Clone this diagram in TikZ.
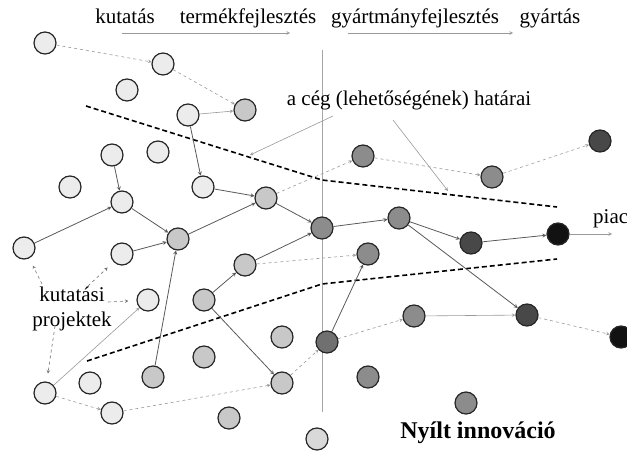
\documentclass[tikz,border=0pt]{standalone}
\usepackage{fontspec}
\setmainfont{Liberation Serif}
\usetikzlibrary{arrows,positioning}
\definecolor{projLight}{RGB}{236,236,236}
\definecolor{projPale}{RGB}{200,200,200}
\definecolor{projMid}{RGB}{140,140,140}
\definecolor{projDark}{RGB}{72,72,72}
\definecolor{projBlack}{RGB}{18,18,18}

\begin{document}
\begin{tikzpicture}[x=1pt,y=-1pt,>=stealth,
    proj/.style={circle,draw=black!85,line width=1.2pt,minimum size=22pt,inner sep=0pt},
    light/.style={proj,fill=projLight},
    pale/.style={proj,fill=projPale},
    mid/.style={proj,fill=projMid},
    dark/.style={proj,fill=projDark},
    blk/.style={proj,fill=projBlack},
    strong/.style={->,draw=black!65,line width=0.8pt},
    weak/.style={->,draw=black!40,line width=0.6pt,dashed},
    faint/.style={->,draw=black!40,line width=0.6pt},
    pointer/.style={->,draw=black!55,line width=0.6pt,dashed,shorten >=8pt},
    boundary/.style={line width=1.6pt,dash pattern=on 5pt off 3pt},
    lbltext/.style={font=\fontsize{21}{25}\selectfont,inner sep=0pt,anchor=base}]
    \useasboundingbox (0,0) rectangle (627,452);

    % Stage labels
    \node[lbltext] (tKut) at (125,24) {kutatás};
    \node[lbltext] (tTerm) at (248,24) {termékfejlesztés};
    \node[lbltext] (tGyartm) at (415,24) {gyártmányfejlesztés};
    \node[lbltext] (tGyart) at (550,24) {gyártás};
    \coordinate (f1s) at (122,33);
    \coordinate (f1e) at (290,33);
    \coordinate (f2s) at (348,33);
    \coordinate (f2e) at (513,33);
    \draw[faint] (f1s) -- (f1e);
    \draw[faint] (f2s) -- (f2e);

    % Divider
    \coordinate (vTop) at (322,50);
    \coordinate (vBot) at (322,412);
    \draw[black!35,line width=0.6pt] (vTop) -- (vBot);

    % Boundaries of the firm
    \draw[boundary] (86,106) -- (322,180) -- (557,207);
    \draw[boundary] (87,361) -- (322,284) -- (557,259);
    \node[lbltext] (tHatar) at (409,106) {a cég (lehetőségének) határai};
    \coordinate (hb1) at (333,116);
    \coordinate (hb1e) at (250,155);
    \coordinate (hb2) at (393,120);
    \coordinate (hb2e) at (448,191);
    \draw[faint] (hb1) -- (hb1e);
    \draw[faint] (hb2) -- (hb2e);

    % Research projects
    \node[light] (r1) at (45,43) {};
    \node[light] (r2) at (163,64) {};
    \node[light] (r3) at (127,90) {};
    \node[light] (r4) at (188,115) {};
    \node[light] (r5) at (112,155) {};
    \node[light] (r6) at (158,152) {};
    \node[light] (r7) at (70,187) {};
    \node[light] (r8) at (122,202) {};
    \node[light] (r9) at (203,187) {};
    \node[light] (r10) at (24,248) {};
    \node[light] (r11) at (122,254) {};
    \node[light] (r12) at (148,300) {};
    \node[light] (r13) at (45,393) {};
    \node[light] (r14) at (90,383) {};
    \node[light] (r15) at (112,413) {};

    % Product development
    \node[pale] (p1) at (245,110) {};
    \node[pale] (p2) at (266,198) {};
    \node[pale] (p3) at (178,239) {};
    \node[pale] (p4) at (245,265) {};
    \node[pale] (p5) at (204,300) {};
    \node[pale] (p6) at (282,337) {};
    \node[pale] (p7) at (204,357) {};
    \node[pale] (p8) at (153,377) {};
    \node[pale] (p9) at (282,383) {};
    \node[pale] (p10) at (229,418) {};
    \node[light,fill=projPale!70] (p11) at (317,439) {};

    % Manufacturing development
    \node[mid] (m1) at (363,156) {};
    \node[mid] (m2) at (492,177) {};
    \node[mid] (m3) at (322,228) {};
    \node[mid] (m4) at (399,218) {};
    \node[mid] (m5) at (368,254) {};
    \node[mid,fill=projMid!80!black] (m6) at (327,342) {};
    \node[mid] (m7) at (414,316) {};
    \node[mid] (m8) at (368,377) {};
    \node[mid] (m9) at (466,403) {};

    % Production
    \node[dark] (k1) at (600,141) {};
    \node[dark] (k2) at (471,243) {};
    \node[dark] (k3) at (527,315) {};
    \node[blk] (b1) at (558,234) {};
    \node[blk] (b2) at (621,337) {};

    % Market
    \node[lbltext,anchor=base west] (tPiac) at (593,223) {piac};
    \coordinate (piacEnd) at (612,234);

    % Links
    \draw[weak] (r1) -- (r2);
    \draw[weak] (r2) -- (p1);
    \draw[faint] (r4) -- (p1);
    \draw[strong] (r4) -- (r9);
    \draw[strong] (r5) -- (r8);
    \draw[strong] (r9) -- (p2);
    \draw[strong] (r10) -- (r8);
    \draw[strong] (r8) -- (p3);
    \draw[strong] (r11) -- (p3);
    \draw[strong] (p3) -- (p2);
    \draw[strong] (p8) -- (p3);
    \draw[weak] (p2) -- (m1);
    \draw[strong] (p2) -- (m3);
    \draw[strong] (p4) -- (m3);
    \draw[weak] (p4) -- (m5);
    \draw[strong] (p5) -- (p4);
    \draw[strong] (p5) -- (p9);
    \draw[weak] (p9) -- (m6);
    \draw[strong] (m6) -- (m5);
    \draw[weak] (m6) -- (m7);
    \draw[faint] (m7) -- (k3);
    \draw[weak] (k3) -- (b2);
    \draw[strong] (m3) -- (m4);
    \draw[strong] (m4) -- (k2);
    \draw[strong] (m4) -- (k3);
    \draw[strong] (k2) -- (b1);
    \draw[faint] (b1) -- (piacEnd);
    \draw[weak] (m1) -- (m2);
    \draw[weak] (m2) -- (k1);
    \draw[weak] (r13) -- (r15);
    \draw[weak] (r15) -- (p9);
    \draw[faint] (r13) -- (r12);

    % Research projects label
    \node[font=\fontsize{21}{25}\selectfont,align=center,inner sep=0pt] (tProj) at (72,309) {kutatási\\projektek};
    \coordinate (kp1) at (42,284);
    \coordinate (kp2) at (88,286);
    \coordinate (kp3) at (108,302);
    \coordinate (kp4) at (55,326);
    \draw[pointer] (kp1) -- (r10);
    \draw[pointer] (kp2) -- (r11);
    \draw[pointer] (kp3) -- (r12);
    \draw[pointer] (kp4) -- (r13);

    % Title
    \node[lbltext,font=\fontsize{24}{28}\selectfont\bfseries] (tNyilt) at (478,438) {Nyílt innováció};
\end{tikzpicture}
\end{document}
